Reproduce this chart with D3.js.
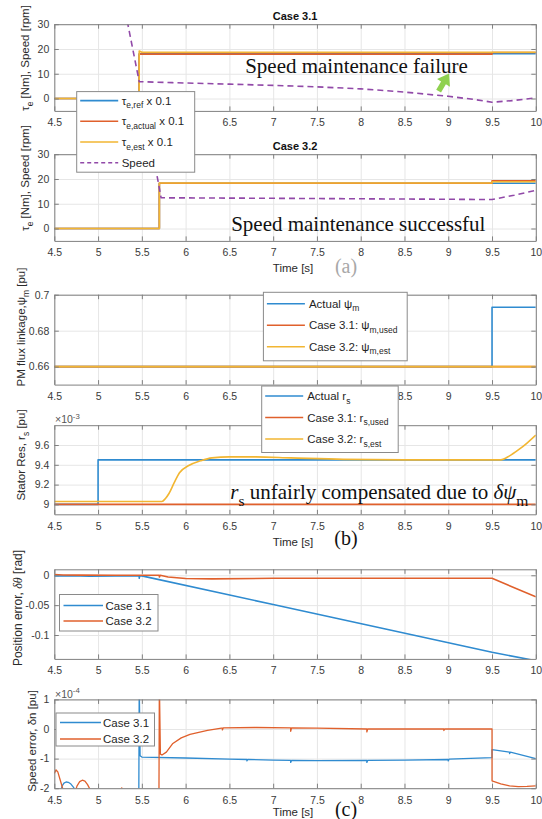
<!DOCTYPE html>
<html>
<head>
<meta charset="utf-8">
<script src="https://cdn.jsdelivr.net/npm/d3@7/dist/d3.min.js"></script>
<style>
  body { margin: 0; background: #fff; }
  svg { display: block; }
</style>
</head>
<body>
<svg id="fig" width="542" height="819"></svg>
<script>
// ---------------- data ----------------
const timeTicks = [4.5, 5, 5.5, 6, 6.5, 7, 7.5, 8, 8.5, 9, 9.5, 10];

// (a) Case 3.1: torque (x 0.1, Nm) and speed (rpm)
const tauRef31 = [[4.5, 0], [5.47, 0], [5.47, 18.1], [10, 18.1]];
const tauAct31 = [[4.5, 0], [5.47, 0], [5.47, 17.9], [9.5, 17.9], [9.5, 18.6], [10, 18.6]];
const tauEst31 = [[4.5, 0], [5.47, 0], [5.47, 19.2], [5.5, 18.7], [10, 18.7]];
const speed31 = [[5.2, 55], [5.47, 6.8], [5.85, 6.4], [6.5, 5.8], [7, 5.3], [7.5, 4.7], [8, 3.9],
                 [8.5, 2.6], [9, 0.9], [9.3, -0.4], [9.5, -1.5], [9.75, -0.8], [10, 0.3]];

// (a) Case 3.2
const tauRef32 = [[4.5, 0], [5.7, 0], [5.7, 18.3], [10, 18.3]];
const tauAct32 = [[4.5, 0], [5.7, 0], [5.7, 18.3], [9.5, 18.3], [9.5, 19.3], [10, 19.3]];
const tauEst32 = [[4.5, 0], [5.7, 0], [5.7, 18.4], [9.5, 18.4], [9.5, 18.9], [10, 18.9]];
const speed32 = [[5.55, 45], [5.72, 12.4], [7, 12.2], [8.5, 11.9], [9.5, 11.7], [9.75, 13.4], [10, 15.4]];

// (b) PM flux linkage [pu]
const psiActual = [[4.5, 0.66], [9.5, 0.66], [9.5, 0.693], [10, 0.693]];
const psiUsed31 = [[4.5, 0.66], [10, 0.66]];
const psiEst32 = [[4.5, 0.66], [10, 0.66]];

// (b) stator resistance [x 1e-3 pu]
const rsActual = [[4.5, 9.0], [5.0, 9.0], [5.0, 9.45], [10, 9.45]];
const rsUsed31 = [[4.5, 9.0], [10, 9.0]];
const rsEst32 = [[4.5, 9.03], [5.73, 9.03], [5.77, 9.06], [5.81, 9.11], [5.87, 9.22], [5.93, 9.32],
                 [6.03, 9.39], [6.17, 9.44], [6.3, 9.47], [6.5, 9.48], [6.8, 9.48], [7.2, 9.47],
                 [7.8, 9.455], [8.5, 9.45], [9.6, 9.45], [9.7, 9.49], [9.8, 9.55], [9.9, 9.62], [10, 9.70]];

// (c) position error [rad]
const posErr31 = [[4.5, -0.0012], [4.7, -0.0008], [4.9, -0.0015], [5.2, -0.001], [5.47, -0.0008],
                  [5.47, -0.005], [5.475, -0.001], [5.5, -0.001], [7, -0.049], [9.5, -0.129], [10, -0.143]];
const posErr32 = [[4.5, 0.0012], [4.6, 0.0005], [4.8, 0.0002], [5.2, 0], [5.7, 0], [5.7, -0.003],
                  [5.71, 0], [5.8, -0.003], [6.0, -0.0055], [6.3, -0.006], [7, -0.005], [9.5, -0.005], [10, -0.036]];

// (c) speed error [x 1e-4 pu]
const spdErr31 = [[4.5, -2.6], [4.56, -2.3], [4.575, -2.1], [4.59, -1.92], [4.61, -1.83], [4.635, -1.79],
                  [4.66, -1.8], [4.69, -1.86], [4.72, -1.97], [4.74, -2.1], [4.8, -2.6], [5.465, -2.6],
                  [5.47, 1.6], [5.48, -0.9], [5.5, -0.95], [6, -0.98], [6.5, -1.02], [6.7, -1.03],
                  [6.7, -1.08], [6.71, -1.03], [7, -1.05], [7.2, -1.06], [7.2, -1.13], [7.21, -1.06],
                  [7.5, -1.07], [8.07, -1.06], [8.07, -1.13], [8.08, -1.06], [8.5, -1.05], [9, -1.03],
                  [9.0, -1.08], [9.01, -1.02], [9.5, -0.97], [9.5, -0.7], [9.7, -0.78], [9.7, -0.83],
                  [9.71, -0.78], [10, -1.0]];
const spdErr32 = [[4.5, -1.5], [4.52, -1.38], [4.54, -1.45], [4.57, -1.75], [4.6, -2.05], [4.65, -2.5],
                  [4.72, -2.4], [4.74, -2.1], [4.76, -1.92], [4.79, -1.78], [4.82, -1.73], [4.85, -1.76],
                  [4.88, -1.88], [4.91, -2.05], [4.93, -2.3], [5.2, -2.6], [5.24, -2.1], [5.27, -1.99],
                  [5.3, -2.1], [5.35, -2.6], [5.695, -2.6], [5.7, 1.6], [5.712, -0.85], [5.73, -0.88],
                  [5.78, -0.78], [5.85, -0.5], [5.95, -0.3], [6.05, -0.18], [6.25, -0.05], [6.41, 0.03],
                  [6.42, 0.03], [6.42, -0.03], [6.43, 0.04], [6.8, 0.05], [7.2, 0.04], [7.2, -0.08],
                  [7.21, 0.04], [7.5, 0.03], [8.07, 0.0], [8.07, -0.1], [8.08, 0.0], [8.5, 0.0],
                  [8.95, 0.0], [8.95, -0.05], [8.96, 0.0], [9.5, 0.0], [9.5, -1.75], [9.6, -1.85],
                  [9.7, -1.92], [9.8, -1.95], [9.9, -1.94], [10, -1.92]];

// annotation anchors (data coordinates)
const failureLabelAt = [6.68, 10.2];
const successLabelAt = [6.52, -1.0];
const rsLabelAt = [6.51, 9.055];
const arrowTail = [8.89, 3.0];
const arrowTip = [9.01, 10.1];

// ---------------- styling / layout ----------------
const SANS = '"Liberation Sans", Arial, Helvetica, sans-serif';
const SERIF = '"Liberation Serif", "Times New Roman", serif';
const COL = { blue: '#2f8bd0', orange: '#e0602c', yellow: '#f2b632', purple: '#9149a8' };
const X0 = 54.3, X1 = 535.8;
const x = d3.scaleLinear().domain([4.5, 10]).range([X0, X1]);
const svg = d3.select('#fig');

// draw text made of parts (subscripts, superscripts, italics)
function rich(sel, parts, fs) {
  let shift = 0;
  parts.forEach(p => {
    const target = p.sub ? fs * 0.32 : (p.sup ? -fs * 0.42 : 0);
    const ts = sel.append('tspan')
      .attr('dy', target - shift)
      .style('font-size', (p.sub || p.sup) ? (fs * 0.74) + 'px' : fs + 'px')
      .text(p.t);
    if (p.it) ts.style('font-style', 'italic');
    if (p.serif) ts.style('font-family', SERIF);
    shift = target;
  });
  return sel;
}

function drawPanel(cfg, series) {
  const y = d3.scaleLinear().domain(cfg.yDomain).range([cfg.bottom, cfg.top]);
  const h = cfg.bottom - cfg.top;
  const g = svg.append('g');
  const hidden = new Set(cfg.coveredTicks || []);

  // grid
  const gx = g.append('g').attr('transform', `translate(0,${cfg.bottom})`)
    .call(d3.axisBottom(x).tickValues(timeTicks).tickSize(-h).tickSizeOuter(0).tickFormat(''));
  const gy = g.append('g').attr('transform', `translate(${X0},0)`)
    .call(d3.axisLeft(y).tickValues(cfg.yTicks).tickSize(-(X1 - X0)).tickSizeOuter(0).tickFormat(''));
  [gx, gy].forEach(s => { s.select('.domain').remove(); s.selectAll('line').attr('stroke', '#e6e6e6'); });

  // data
  const clipId = 'clip-' + cfg.id;
  svg.append('clipPath').attr('id', clipId).append('rect')
    .attr('x', X0).attr('y', cfg.top).attr('width', X1 - X0).attr('height', h);
  const plot = g.append('g').attr('clip-path', `url(#${clipId})`);
  series.forEach(s => {
    const line = d3.line().x(d => x(d[0])).y(d => y(d[1])).curve(s.curve || d3.curveLinear);
    plot.append('path').attr('d', line(s.data))
      .attr('fill', 'none').attr('stroke', s.color)
      .attr('stroke-width', s.width || 1.6)
      .attr('stroke-dasharray', s.dash || null)
      .attr('stroke-linejoin', 'round');
  });

  // axes box with inward ticks (labels that sit under a legend box are left out)
  const ax = g.append('g');
  const axes = [
    ax.append('g').attr('transform', `translate(0,${cfg.bottom})`)
      .call(d3.axisBottom(x).tickValues(timeTicks).tickSize(-4.5).tickSizeOuter(0).tickPadding(8)
        .tickFormat(d => hidden.has(d) ? '' : String(d))),
    ax.append('g').attr('transform', `translate(0,${cfg.top})`)
      .call(d3.axisTop(x).tickValues(timeTicks).tickSize(-4.5).tickSizeOuter(0).tickFormat('')),
    ax.append('g').attr('transform', `translate(${X0},0)`)
      .call(d3.axisLeft(y).tickValues(cfg.yTicks).tickSize(-4.5).tickSizeOuter(0).tickPadding(5).tickFormat(cfg.fmt)),
    ax.append('g').attr('transform', `translate(${X1},0)`)
      .call(d3.axisRight(y).tickValues(cfg.yTicks).tickSize(-4.5).tickSizeOuter(0).tickFormat(''))
  ];
  axes.forEach(a => {
    a.attr('font-family', SANS).attr('font-size', 10.5);
    a.select('.domain').attr('stroke', '#808080');
    a.selectAll('.tick line').attr('stroke', '#808080');
    a.selectAll('.tick text').attr('fill', '#3a3a3a');
  });
  return { y, g };
}

function yLabel(cx, cy, parts, fs) {
  const t = svg.append('text')
    .attr('transform', `translate(${cx},${cy}) rotate(-90)`)
    .attr('text-anchor', 'middle').attr('font-family', SANS).attr('fill', '#2a2a2a');
  rich(t, parts, fs || 11.5);
}

function plainText(px, py, str, opts) {
  return svg.append('text').attr('x', px).attr('y', py)
    .attr('text-anchor', opts.anchor || 'middle')
    .attr('font-family', opts.font || SANS)
    .attr('font-size', opts.size || 11.5)
    .attr('font-weight', opts.weight || null)
    .attr('fill', opts.fill || '#2a2a2a')
    .text(str);
}

function legend(box, rows) {
  const lg = svg.append('g');
  lg.append('rect').attr('x', box.x).attr('y', box.y).attr('width', box.w).attr('height', box.h)
    .attr('fill', '#fff').attr('stroke', '#8a8a8a').attr('stroke-width', 1);
  rows.forEach((r, i) => {
    const yy = box.y + box.first + i * box.step;
    lg.append('line').attr('x1', box.x + box.l0).attr('x2', box.x + box.l1)
      .attr('y1', yy).attr('y2', yy)
      .attr('stroke', r.color).attr('stroke-width', 1.6).attr('stroke-dasharray', r.dash || null);
    const t = lg.append('text').attr('x', box.x + box.tx).attr('y', yy + 4)
      .attr('font-family', SANS).attr('fill', '#1f1f1f');
    rich(t, r.parts, box.fs || 11.5);
  });
}

// ---------------- (a) torque & speed ----------------
const fmtInt = d => String(d);
const pA1 = drawPanel({ id: 'a1', top: 24.2, bottom: 110.9, yDomain: [-5, 30], yTicks: [0, 10, 20, 30], fmt: fmtInt,
  coveredTicks: [5, 5.5, 6] }, [
  { data: tauRef31, color: COL.blue },
  { data: tauAct31, color: COL.orange },
  { data: tauEst31, color: COL.yellow },
  { data: speed31, color: COL.purple, dash: '6,4' }
]);
const pA2 = drawPanel({ id: 'a2', top: 154.2, bottom: 240.9, yDomain: [-5, 30], yTicks: [0, 10, 20, 30], fmt: fmtInt }, [
  { data: tauRef32, color: COL.blue },
  { data: tauAct32, color: COL.orange },
  { data: tauEst32, color: COL.yellow },
  { data: speed32, color: COL.purple, dash: '6,4' }
]);

// ---------------- (b) parameters ----------------
const pB1 = drawPanel({ id: 'b1', top: 294.7, bottom: 384.6, yDomain: [0.65, 0.7], yTicks: [0.66, 0.68, 0.7],
  fmt: d => String(+d.toFixed(2)), coveredTicks: [7, 7.5, 8] }, [
  { data: psiActual, color: COL.blue },
  { data: psiUsed31, color: COL.orange },
  { data: psiEst32, color: COL.yellow }
]);
const pB2 = drawPanel({ id: 'b2', top: 425.2, bottom: 514.3, yDomain: [8.9, 9.8], yTicks: [9, 9.2, 9.4, 9.6], fmt: d => String(+d.toFixed(1)) }, [
  { data: rsActual, color: COL.blue },
  { data: rsUsed31, color: COL.orange },
  { data: rsEst32, color: COL.yellow, curve: d3.curveMonotoneX }
]);

// ---------------- (c) errors ----------------
const pC1 = drawPanel({ id: 'c1', top: 569.3, bottom: 658.9, yDomain: [-0.14, 0.01], yTicks: [-0.1, -0.05, 0], fmt: d => String(+d.toFixed(2)) }, [
  { data: posErr31, color: COL.blue },
  { data: posErr32, color: COL.orange }
]);
const pC2 = drawPanel({ id: 'c2', top: 699.4, bottom: 788.2, yDomain: [-2, 1], yTicks: [-2, -1, 0, 1], fmt: fmtInt }, [
  { data: spdErr31, color: COL.blue, width: 1.3 },
  { data: spdErr32, color: COL.orange, width: 1.3 }
]);

// ---------------- titles, axis labels ----------------
const XC = (X0 + X1) / 2;
plainText(XC, 19.5, 'Case 3.1', { size: 11, weight: 'bold', fill: '#111' });
plainText(XC, 149.5, 'Case 3.2', { size: 11, weight: 'bold', fill: '#111' });
plainText(XC - 2, 272, 'Time [s]', {});
plainText(XC - 2, 545.5, 'Time [s]', {});
plainText(XC - 2, 816, 'Time [s]', {});

plainText(346, 273, '(a)', { font: SERIF, size: 20, fill: '#a8a8a8' });
plainText(346, 545, '(b)', { font: SERIF, size: 20, fill: '#111' });
plainText(346, 816, '(c)', { font: SERIF, size: 20, fill: '#111' });

yLabel(29, 58, [{ t: 'τ' }, { t: 'e', sub: true }, { t: ' [Nm], Speed [rpm]' }]);
yLabel(29, 178, [{ t: 'τ' }, { t: 'e', sub: true }, { t: ' [Nm], Speed [rpm]' }]);
yLabel(25, 327, [{ t: 'PM flux linkage,' }, { t: 'ψ' }, { t: 'm', sub: true }, { t: ' [pu]' }]);
yLabel(25, 455, [{ t: 'Stator Res, r' }, { t: 's', sub: true }, { t: ' [pu]' }]);
yLabel(22, 608, [{ t: 'Position error, ' }, { t: 'δθ', it: true, serif: true }, { t: ' [rad]' }], 12);
yLabel(36, 741, [{ t: 'Speed error, δn [pu]' }]);

// exponent labels
rich(svg.append('text').attr('x', 55).attr('y', 423).attr('font-family', SANS).attr('fill', '#555'),
  [{ t: '×10' }, { t: '-3', sup: true }], 10.5);
rich(svg.append('text').attr('x', 55).attr('y', 697.5).attr('font-family', SANS).attr('fill', '#555'),
  [{ t: '×10' }, { t: '-4', sup: true }], 10.5);

// ---------------- annotations ----------------
svg.append('text').attr('x', x(failureLabelAt[0])).attr('y', pA1.y(failureLabelAt[1]))
  .attr('font-family', SERIF).attr('font-size', 21).attr('fill', '#111').text('Speed maintenance failure');
svg.append('text').attr('x', x(successLabelAt[0])).attr('y', pA2.y(successLabelAt[1]))
  .attr('font-family', SERIF).attr('font-size', 21).attr('fill', '#111').text('Speed maintenance successful');
rich(svg.append('text').attr('x', x(rsLabelAt[0])).attr('y', pB2.y(rsLabelAt[1]))
  .attr('font-family', SERIF).attr('fill', '#111'),
  [{ t: 'r', it: true }, { t: 's', sub: true }, { t: ' unfairly compensated due to ' }, { t: 'δψ', it: true }, { t: 'm', sub: true }], 21);

// fat green arrow
(function () {
  const tx = x(arrowTip[0]), ty = pA1.y(arrowTip[1]);
  const sx = x(arrowTail[0]), sy = pA1.y(arrowTail[1]);
  const L = Math.hypot(tx - sx, ty - sy);
  const ux = (tx - sx) / L, uy = (ty - sy) / L;
  const nx = -uy, ny = ux;
  const headLen = 11, headHalf = 7.5, shaftHalf = 2.8;
  const bx = tx - ux * headLen, by = ty - uy * headLen;
  const pts = [
    [tx, ty],
    [bx + nx * headHalf, by + ny * headHalf],
    [bx + nx * shaftHalf, by + ny * shaftHalf],
    [sx + nx * shaftHalf, sy + ny * shaftHalf],
    [sx - nx * shaftHalf, sy - ny * shaftHalf],
    [bx - nx * shaftHalf, by - ny * shaftHalf],
    [bx - nx * headHalf, by - ny * headHalf]
  ];
  svg.append('polygon').attr('points', pts.map(p => p.join(',')).join(' ')).attr('fill', '#8fd14f');
})();

// ---------------- legends ----------------
legend({ x: 76.7, y: 91.6, w: 118, h: 80.6, first: 9, step: 20.7, l0: 3.5, l1: 41.5, tx: 45 }, [
  { color: COL.blue, parts: [{ t: 'τ' }, { t: 'e,ref', sub: true }, { t: ' x 0.1' }] },
  { color: COL.orange, parts: [{ t: 'τ' }, { t: 'e,actual', sub: true }, { t: ' x 0.1' }] },
  { color: COL.yellow, parts: [{ t: 'τ' }, { t: 'e,est', sub: true }, { t: ' x 0.1' }] },
  { color: COL.purple, dash: '4,3', parts: [{ t: 'Speed' }] }
]);
legend({ x: 263.4, y: 292.3, w: 143.8, h: 68.5, first: 11.5, step: 21.5, l0: 3.5, l1: 41.5, tx: 45.5 }, [
  { color: COL.blue, parts: [{ t: 'Actual ' }, { t: 'ψ' }, { t: 'm', sub: true }] },
  { color: COL.orange, parts: [{ t: 'Case 3.1: ' }, { t: 'ψ' }, { t: 'm,used', sub: true }] },
  { color: COL.yellow, parts: [{ t: 'Case 3.2: ' }, { t: 'ψ' }, { t: 'm,est', sub: true }] }
]);
legend({ x: 261.7, y: 386, w: 136.5, h: 66.5, first: 10, step: 21.5, l0: 3.5, l1: 41.5, tx: 45.5 }, [
  { color: COL.blue, parts: [{ t: 'Actual r' }, { t: 's', sub: true }] },
  { color: COL.orange, parts: [{ t: 'Case 3.1: r' }, { t: 's,used', sub: true }] },
  { color: COL.yellow, parts: [{ t: 'Case 3.2: r' }, { t: 's,est', sub: true }] }
]);
legend({ x: 59.5, y: 594.5, w: 98.5, h: 36.5, first: 11, step: 15.5, l0: 4, l1: 43.5, tx: 46 }, [
  { color: COL.blue, parts: [{ t: 'Case 3.1' }] },
  { color: COL.orange, parts: [{ t: 'Case 3.2' }] }
]);
legend({ x: 56, y: 713, w: 98.5, h: 33, first: 9.5, step: 16.5, l0: 4, l1: 45, tx: 47 }, [
  { color: COL.blue, parts: [{ t: 'Case 3.1' }] },
  { color: COL.orange, parts: [{ t: 'Case 3.2' }] }
]);
</script>
</body>
</html>
